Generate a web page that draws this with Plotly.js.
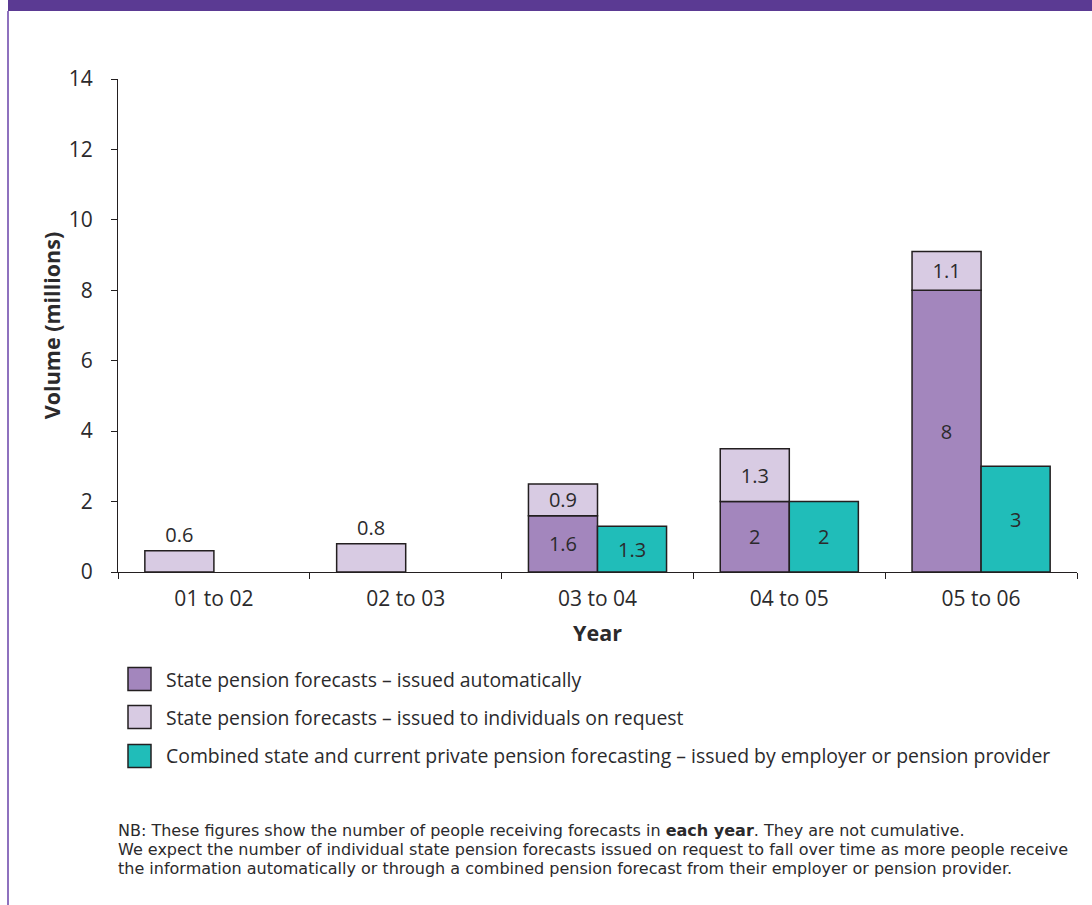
<!DOCTYPE html>
<html>
<head>
<meta charset="utf-8">
<script src="https://cdn.plot.ly/plotly-3.0.1.min.js"></script>
<style>
html,body{margin:0;padding:0;background:#fff;}
#chart{width:1092px;height:905px;}
</style>
</head>
<body>
<div id="chart"></div>
<script>
// ---- data ----
const years = ['01 to 02', '02 to 03', '03 to 04', '04 to 05', '05 to 06'];
const autoValues = [null, null, 1.6, 2, 8];
const autoLabels = ['', '', '1.6', '2', '8'];
const requestValues = [0.6, 0.8, 0.9, 1.5, 1.1];
const requestLabels = ['0.6', '0.8', '0.9', '1.3', '1.1'];
const combinedValues = [null, null, 1.3, 2, 3];
const combinedLabels = ['', '', '1.3', '2', '3'];
const seriesNames = [
  'State pension forecasts \u2013 issued automatically',
  'State pension forecasts \u2013 issued to individuals on request',
  'Combined state and current private pension forecasting \u2013 issued by employer or pension provider'
];
const yTicks = [0, 2, 4, 6, 8, 10, 12, 14];

// ---- style ----
const FONT = 'Open Sans, Noto Sans, sans-serif';
const NOTEFONT = 'DejaVu Sans, Open Sans, sans-serif';
const TXT = '#2b2a2c';
const colors = ['#a386bd', '#d8cbe3', '#20bdb9'];
const outline = {color: '#231f20', width: 1.5};

const requestBase = autoValues.map(v => v == null ? 0 : v);
const requestPos = requestValues.map((v, i) => autoValues[i] == null ? 'outside' : 'inside');

const labelFont = {family: FONT, size: 20, color: TXT};
const traces = [
  {type: 'bar', x: years, y: autoValues, name: seriesNames[0], offsetgroup: 'a',
   marker: {color: colors[0], line: outline}, text: autoLabels, textposition: 'inside',
   insidetextanchor: 'middle', textangle: 0, constraintext: 'none', cliponaxis: false,
   textfont: labelFont, hoverinfo: 'x+y'},
  {type: 'bar', x: years, y: requestValues, base: requestBase, name: seriesNames[1], offsetgroup: 'a',
   marker: {color: colors[1], line: outline}, text: requestLabels, textposition: requestPos,
   insidetextanchor: 'middle', textangle: 0, constraintext: 'none', cliponaxis: false,
   textfont: labelFont, hoverinfo: 'x+y'},
  {type: 'bar', x: years, y: combinedValues, name: seriesNames[2], offsetgroup: 'b',
   marker: {color: colors[2], line: outline}, text: combinedLabels, textposition: 'inside',
   insidetextanchor: 'middle', textangle: 0, constraintext: 'none', cliponaxis: false,
   textfont: labelFont, hoverinfo: 'x+y'}
];

// geometry helpers (page pixels -> paper coords)
const L = 118, R = 1077, T = 79, B = 572, W = 1092, H = 905;
const px = x => (x - L) / (R - L);
const py = y => (B - y) / (B - T);

const shapes = [
  {type: 'rect', xref: 'paper', yref: 'paper', x0: px(8), x1: px(W + 5), y0: py(11), y1: py(-5),
   fillcolor: '#5b3a93', line: {width: 0}, layer: 'above'},
  {type: 'rect', xref: 'paper', yref: 'paper', x0: px(7), x1: px(9), y0: py(H + 5), y1: py(11),
   fillcolor: '#8e71be', line: {width: 0}}
];
const annotations = [];
const legendRows = [679, 717, 756];
seriesNames.forEach((n, i) => {
  shapes.push({type: 'rect', xref: 'paper', yref: 'paper',
    x0: px(128), x1: px(151), y0: py(legendRows[i] + 11.5), y1: py(legendRows[i] - 11.5),
    fillcolor: colors[i], line: {color: '#231f20', width: 1.5}});
  annotations.push({xref: 'paper', yref: 'paper', x: px(164), y: py(legendRows[i]),
    xanchor: 'left', yanchor: 'middle', showarrow: false, text: n,
    font: {family: FONT, size: 19.4, color: TXT}});
});
const notes = [
  'NB: These figures show the number of people receiving forecasts in <b>each year</b>. They are not cumulative.',
  'We expect the number of individual state pension forecasts issued on request to fall over time as more people receive',
  'the information automatically or through a combined pension forecast from their employer or pension provider.'
];
const noteRows = [830, 849, 868];
notes.forEach((t, i) => {
  annotations.push({xref: 'paper', yref: 'paper', x: px(116), y: py(noteRows[i]),
    xanchor: 'left', yanchor: 'middle', showarrow: false, text: t,
    font: {family: NOTEFONT, size: 16, color: TXT}});
});

const layout = {
  width: W, height: H,
  margin: {l: L, r: W - R, t: T, b: H - B},
  paper_bgcolor: '#fff', plot_bgcolor: '#fff',
  barmode: 'group', bargap: 0.28, bargroupgap: 0,
  showlegend: false,
  font: {family: FONT, color: TXT},
  xaxis: {
    type: 'category', tickson: 'boundaries', ticks: 'outside', ticklen: 6, tickcolor: '#231f20',
    showline: true, linecolor: '#231f20', linewidth: 1, showgrid: false, zeroline: false,
    ticklabelstandoff: 8,
    tickfont: {family: FONT, size: 21, color: TXT},
    title: {text: '<b>Year</b>', font: {family: FONT, size: 21.5, color: TXT}, standoff: 14}
  },
  yaxis: {
    range: [0, 14], tickvals: yTicks, ticks: 'outside', ticklen: 6, tickcolor: '#231f20',
    showline: true, linecolor: '#231f20', linewidth: 1, showgrid: false, zeroline: false,
    ticklabelstandoff: 14,
    tickfont: {family: FONT, size: 21, color: TXT},
    title: {text: '<b>Volume (millions)</b>', font: {family: FONT, size: 21.5, color: TXT}, standoff: 2}
  },
  shapes: shapes,
  annotations: annotations
};

Plotly.newPlot('chart', traces, layout, {displayModeBar: false, staticPlot: true});
</script>
</body>
</html>
